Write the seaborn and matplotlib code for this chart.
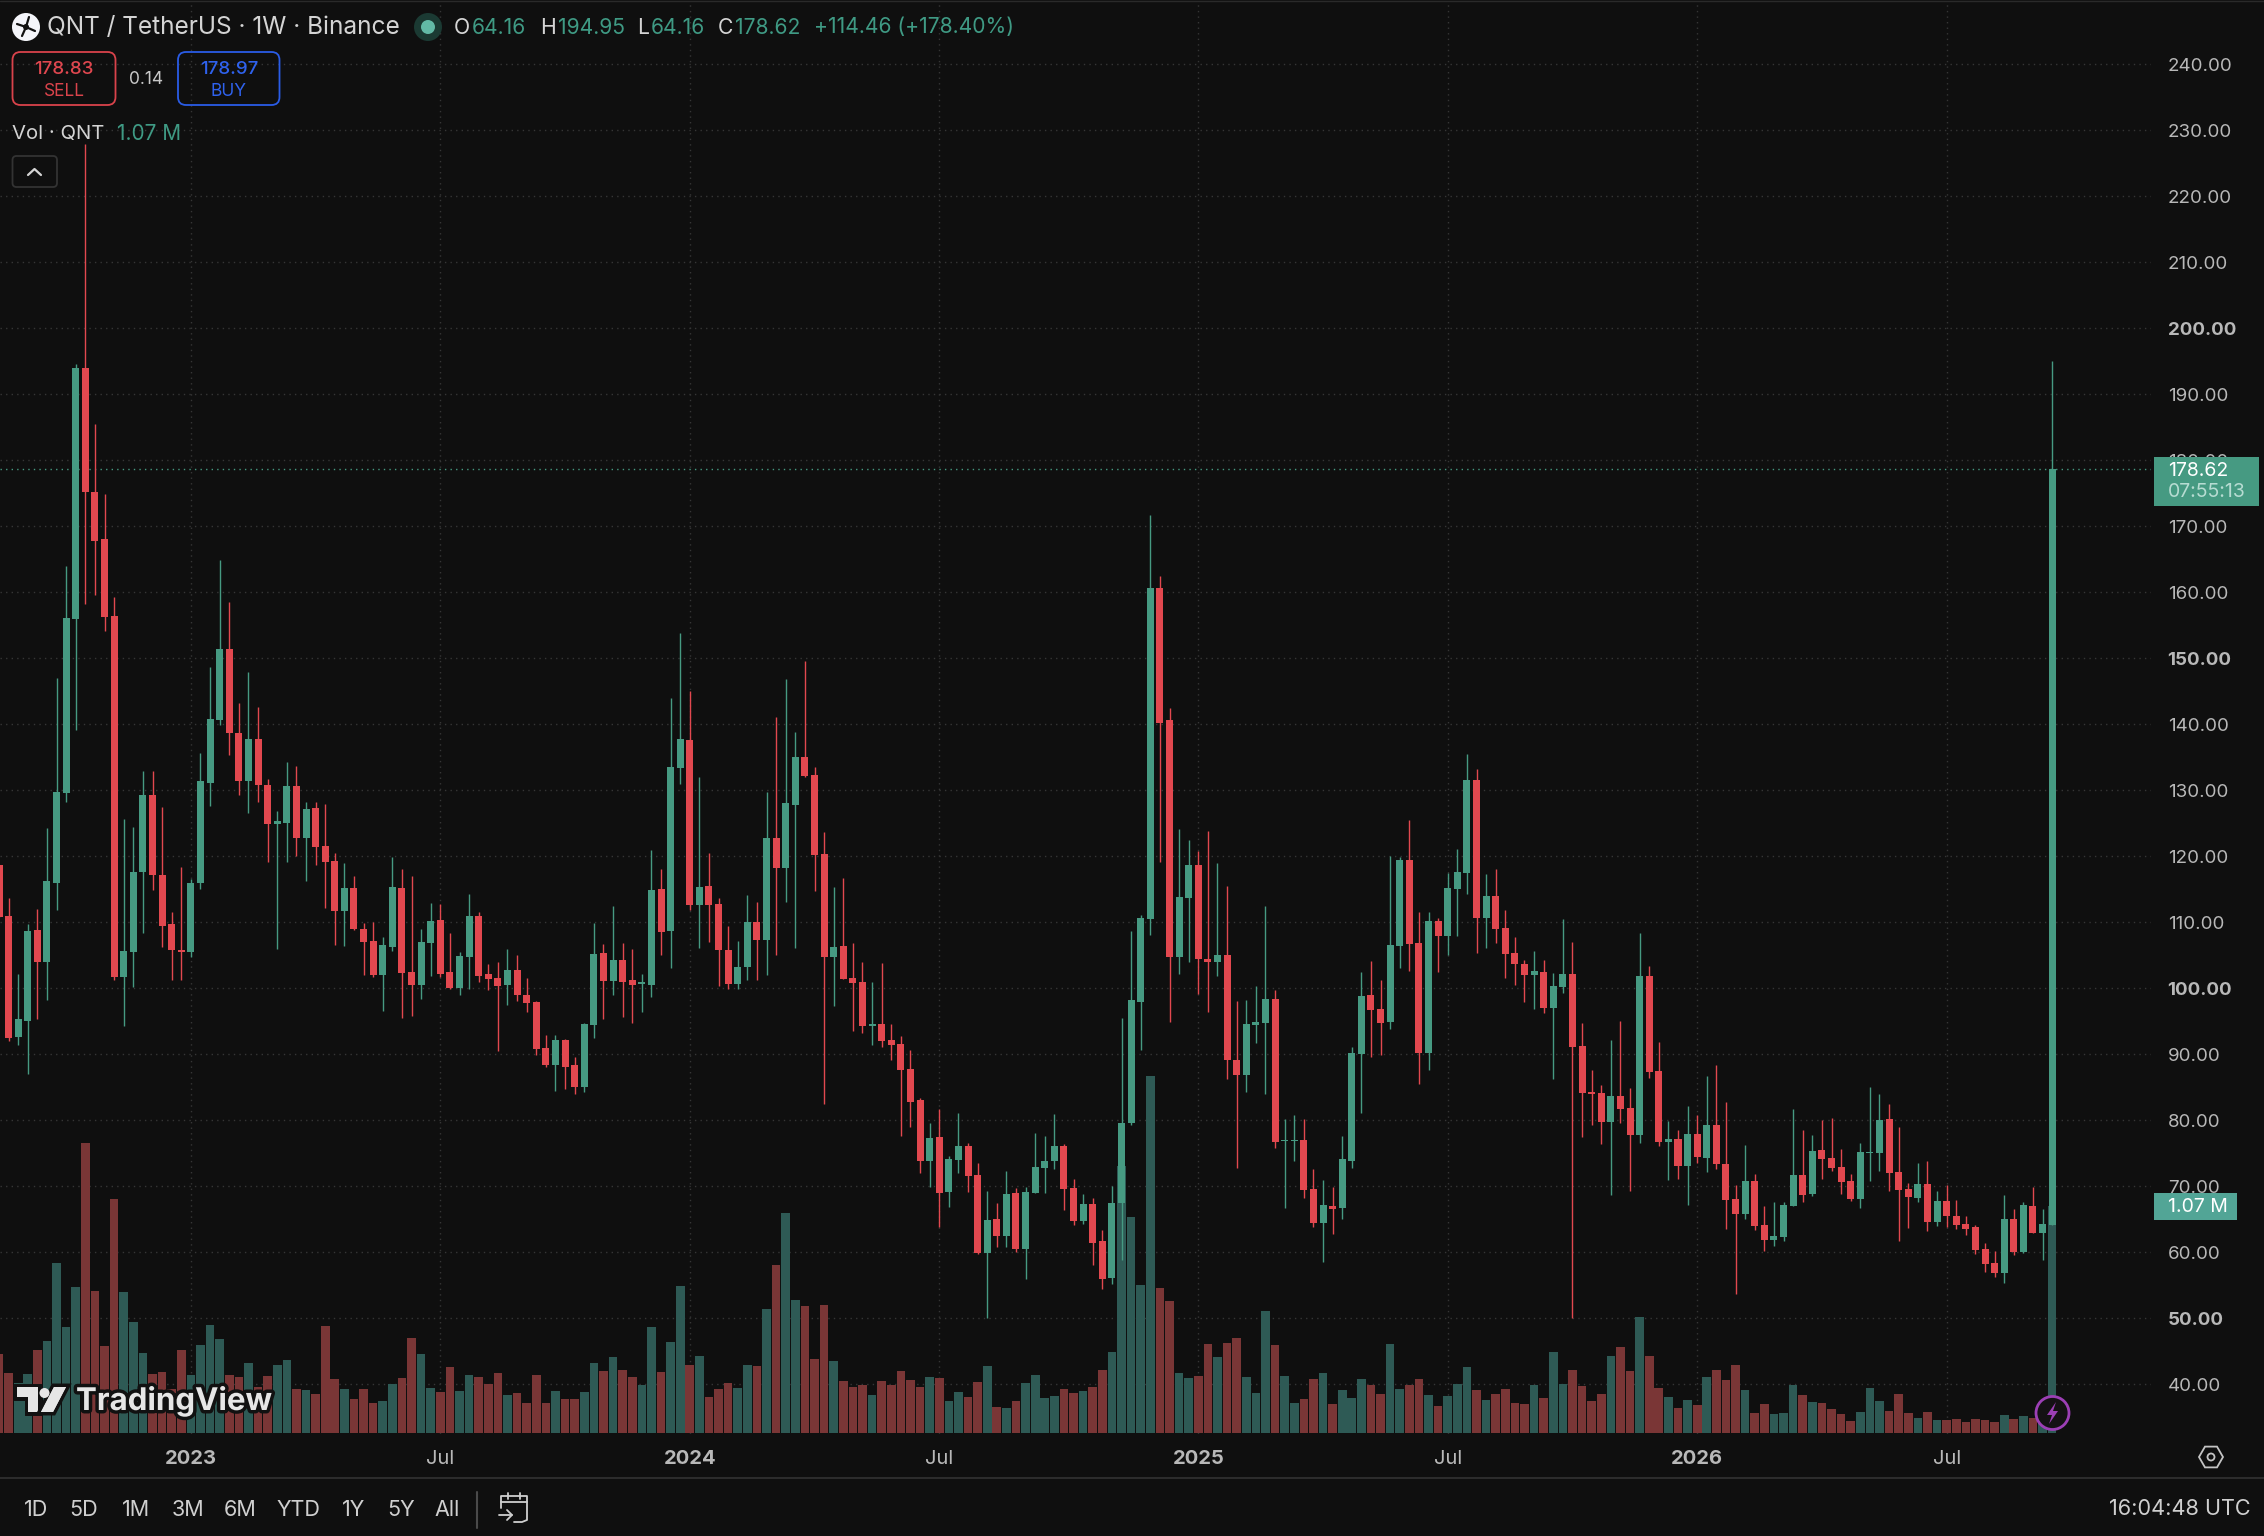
import numpy as np
import pandas as pd
import seaborn as sns
import matplotlib.pyplot as plt
from matplotlib.patches import FancyBboxPatch, Circle, Polygon, Rectangle
import matplotlib.patheffects as pe

# weekly candles, index -1 is the one cut off by the left edge
opens = [118.6, 111.0, 92.6, 95.1, 108.8, 103.9, 116.0, 129.6, 156.0, 193.9, 175.2, 168.1, 156.4, 101.7, 105.5, 117.6, 129.2, 117.2, 109.7, 105.8,
         105.5, 116.0, 131.1, 140.7, 151.4, 138.7, 131.4, 137.7, 130.8, 124.9, 125.1, 130.6, 122.7, 127.3, 121.6, 119.3, 111.7, 115.2, 109.0, 107.2,
         102.0, 106.3, 115.2, 102.5, 100.5, 106.9, 110.4, 102.5, 100.1, 104.7, 111.0, 102.2, 101.6, 100.5, 102.8, 99.0, 97.9, 91.0, 88.3,
         92.2, 88.4, 85.1, 94.4, 105.3, 101.1, 104.3, 101.3, 100.6, 100.5, 115.1, 108.7, 133.4, 137.6, 112.6, 115.5, 112.7, 105.8, 100.6, 103.2,
         110.1, 107.3, 122.7, 118.2, 127.7, 135.1, 132.3, 120.3, 104.8, 106.4, 101.6, 100.9, 94.3, 94.6, 92.2, 91.6, 87.7, 83.1, 73.8, 77.4,
         69.1, 74.0, 76.1, 71.7, 59.9, 65.1, 62.4, 69.0, 60.5, 69.0, 72.8, 73.8, 76.1, 69.8, 64.8, 67.3,
         61.7, 56.1, 67.5, 79.6, 97.9, 110.5, 160.7, 140.7, 104.7, 113.7, 118.7, 104.4, 103.9, 105.0, 89.2, 86.9, 94.4, 94.8, 98.4, 76.9,
         76.9, 77.0, 69.6, 64.4, 67.0, 66.7, 73.8, 90.0, 99.0, 96.8, 94.9, 106.4, 119.4, 106.9, 90.2, 110.2, 107.9, 115.1, 117.5, 131.6,
         110.7, 114.0, 109.1, 105.3, 103.7, 102.0, 102.5, 97.0, 100.2, 102.2, 91.3, 84.3, 84.2, 79.8, 83.7, 81.8,
         77.8, 101.8, 87.4, 76.7, 77.1, 73.1, 77.9, 74.3, 79.3, 73.4, 68.1, 65.8, 70.8, 64.1, 61.8, 62.3, 67.0, 71.7, 68.8, 75.5,
         74.3, 72.9, 70.8, 68.1, 75.0, 75.0, 80.2, 72.1, 69.6, 68.2, 70.4, 64.6, 67.7, 65.5, 64.3, 63.8, 60.5, 58.4, 56.8, 65.0,
         60.0, 67.0, 62.9, 64.16]
highs = [118.6, 113.7, 102.2, 109.8, 112.0, 124.3, 147.0, 163.9, 194.6, 227.9, 185.5, 174.9, 159.3, 125.7, 124.4, 132.9, 132.9, 127.5, 111.5, 118.3,
         116.6, 135.6, 148.7, 164.9, 158.5, 143.2, 147.9, 142.6, 131.7, 126.8, 134.2, 133.7, 128.2, 128.2, 127.9, 120.5, 118.9, 117.0, 109.9, 110.1,
         107.7, 119.9, 118.0, 117.0, 109.0, 112.9, 112.8, 108.4, 105.5, 114.3, 111.5, 103.6, 103.9, 106.0, 105.0, 101.6, 98.1, 92.9, 92.9,
         92.3, 89.6, 94.8, 109.9, 106.7, 112.5, 106.9, 105.9, 102.2, 120.9, 118.1, 144.0, 153.8, 145.1, 132.0, 120.5, 113.7, 109.4, 107.2, 114.1,
         113.1, 129.8, 141.1, 146.9, 138.8, 149.5, 133.5, 123.7, 115.3, 116.7, 106.9, 104.0, 100.9, 103.8, 94.6, 92.7, 90.6, 83.4, 79.6, 81.7,
         74.6, 81.1, 76.6, 73.5, 69.3, 67.4, 72.3, 69.7, 69.9, 78.1, 77.6, 80.9, 76.4, 71.1, 68.8, 68.2,
         63.4, 70.0, 95.5, 108.7, 111.1, 171.7, 162.5, 142.4, 124.1, 122.4, 120.8, 123.8, 118.9, 115.5, 98.1, 98.2, 100.3, 112.4, 99.8, 80.2,
         80.8, 80.2, 72.6, 70.9, 69.9, 77.6, 91.1, 102.5, 104.1, 101.2, 120.0, 119.9, 125.5, 111.5, 111.5, 110.7, 117.5, 121.1, 135.5, 133.2,
         117.3, 118.1, 111.8, 107.7, 104.3, 105.6, 104.3, 102.3, 110.5, 107.0, 94.8, 87.6, 85.3, 92.2, 95.1, 84.9,
         108.4, 103.4, 91.8, 79.9, 78.5, 82.2, 80.8, 86.7, 88.4, 82.8, 70.2, 76.3, 71.9, 67.0, 67.6, 67.6, 81.7, 78.5, 77.8, 80.0,
         80.3, 75.6, 71.9, 76.6, 85.0, 84.0, 82.5, 79.0, 70.5, 73.5, 73.8, 69.3, 70.2, 67.9, 65.5, 64.1, 61.4, 60.2, 68.7, 66.5,
         67.6, 69.9, 66.5, 194.95]
lows = [110.8, 92.0, 91.4, 87.0, 95.4, 98.2, 111.8, 128.2, 139.1, 158.2, 159.6, 154.1, 101.2, 94.3, 100.2, 108.4, 114.9, 106.3, 101.2, 101.2,
        104.7, 115.1, 127.6, 139.8, 135.3, 129.2, 126.6, 128.2, 119.1, 106.0, 119.1, 120.0, 116.2, 118.6, 112.1, 106.6, 106.4, 108.8, 102.0, 101.7,
        96.5, 105.7, 95.5, 95.8, 98.4, 101.9, 101.7, 99.9, 99.0, 99.9, 100.9, 99.8, 90.5, 97.5, 98.1, 96.4, 89.9, 88.1, 84.5,
        84.8, 84.0, 84.3, 92.5, 95.4, 99.0, 95.6, 94.8, 96.4, 98.7, 105.1, 103.1, 130.9, 111.9, 106.1, 107.0, 100.3, 99.9, 99.9, 101.3,
        101.3, 102.0, 105.1, 113.0, 106.1, 132.0, 114.8, 82.4, 97.3, 101.4, 93.5, 93.2, 91.4, 91.1, 89.1, 77.6, 79.0, 72.0, 69.9, 63.8,
        66.8, 72.0, 69.1, 59.7, 50.1, 60.8, 60.8, 60.1, 55.9, 69.0, 69.0, 72.6, 66.4, 64.1, 64.3, 58.1,
        54.5, 55.2, 58.8, 79.3, 90.7, 108.0, 119.1, 94.9, 102.2, 103.9, 99.2, 96.4, 101.9, 86.2, 72.8, 84.3, 91.7, 84.0, 75.8, 66.7,
        73.8, 68.2, 63.8, 58.6, 62.7, 65.1, 72.8, 81.1, 89.6, 89.9, 93.8, 103.1, 102.6, 85.5, 87.6, 102.5, 105.0, 107.9, 114.3, 105.3,
        106.1, 106.9, 101.6, 100.5, 97.9, 96.8, 96.3, 86.2, 99.3, 50.1, 77.4, 79.3, 76.4, 68.6, 79.6, 69.3,
        76.6, 86.4, 76.1, 70.9, 71.1, 67.2, 73.5, 72.1, 72.6, 63.5, 53.7, 65.0, 63.4, 60.2, 61.0, 61.7, 67.0, 67.6, 68.5, 71.1,
        72.3, 68.8, 67.8, 66.7, 70.8, 72.3, 69.3, 61.7, 63.7, 67.6, 63.2, 64.0, 63.8, 63.5, 62.6, 59.7, 57.0, 56.3, 55.3, 59.6,
        59.9, 62.9, 58.8, 64.16]
closes = [110.8, 92.5, 95.4, 108.7, 103.9, 116.2, 129.8, 156.1, 193.9, 175.1, 167.8, 156.3, 101.7, 105.7, 117.6, 129.2, 117.2, 109.4, 105.8, 105.5,
          116.0, 131.4, 140.8, 151.4, 138.7, 131.4, 137.7, 130.8, 124.9, 125.4, 130.6, 122.7, 127.1, 121.4, 119.1, 111.7, 115.2, 109.0, 107.0, 102.0,
          106.6, 115.3, 102.3, 100.5, 107.0, 110.2, 102.2, 100.1, 104.9, 111.0, 101.9, 101.4, 100.3, 102.8, 98.9, 97.8, 90.8, 88.3, 92.2,
          88.1, 85.1, 94.6, 105.2, 101.1, 104.3, 100.9, 100.5, 100.9, 114.9, 108.5, 133.5, 137.7, 112.6, 115.3, 112.6, 105.8, 100.6, 103.2, 110.1,
          107.3, 122.7, 118.2, 128.0, 135.1, 132.2, 120.2, 104.8, 106.3, 101.4, 100.8, 94.3, 94.6, 92.0, 91.4, 87.6, 82.7, 73.8, 77.3, 69.0,
          74.1, 76.1, 71.6, 59.9, 64.9, 62.4, 68.8, 60.5, 69.1, 72.9, 73.8, 76.1, 69.6, 64.8, 67.3, 61.4,
          56.0, 67.5, 79.6, 98.2, 110.7, 160.7, 140.2, 104.7, 113.8, 118.7, 104.4, 103.9, 105.0, 89.1, 86.9, 94.6, 94.9, 98.4, 76.7, 77.0,
          77.0, 69.5, 64.4, 67.2, 66.5, 74.1, 90.2, 98.8, 96.7, 94.8, 106.6, 119.4, 106.7, 90.2, 110.2, 107.9, 115.2, 117.6, 131.6, 110.7,
          114.0, 109.0, 105.2, 103.6, 102.0, 102.6, 97.0, 100.3, 102.2, 91.1, 84.2, 84.0, 79.8, 83.7, 81.7, 77.7,
          101.8, 87.3, 76.7, 77.1, 73.1, 77.9, 74.4, 79.3, 73.4, 67.9, 65.8, 70.8, 64.0, 61.8, 62.5, 67.2, 71.7, 68.7, 75.3, 74.1,
          72.8, 70.6, 68.1, 75.2, 75.2, 80.0, 72.0, 69.4, 68.4, 70.4, 64.6, 67.7, 65.5, 64.1, 63.5, 60.3, 58.2, 56.8, 65.0, 60.0,
          67.2, 62.9, 64.3, 178.62]
# volume in thousands of QNT
volumes = [372, 282, 235, 277, 391, 433, 802, 499, 688, 1369, 669, 410, 1104, 665, 523, 376, 277, 287, 206, 391,
           272, 414, 509, 443, 272, 263, 329, 216, 268, 320, 343, 206, 202, 183, 504, 254, 206, 159, 206, 140,
           150, 230, 258, 447, 372, 211, 192, 310, 197, 272, 263, 230, 282, 178, 187, 140, 272, 140, 197, 159,
           159, 192, 329, 291, 358, 296, 263, 225, 499, 287, 428, 693, 320, 362, 169, 206, 235, 211, 320, 315,
           584, 792, 1038, 627, 599, 348, 603, 339, 244, 216, 225, 178, 244, 225, 291, 249, 216, 263, 258, 150,
           192, 169, 239, 315, 121, 117, 150, 235, 272, 164, 173, 206, 187, 197, 216, 296, 381, 1260, 1019, 698,
           1686, 684, 622, 282, 258, 268, 419, 358, 424, 447, 263, 187, 575, 414, 268, 140, 159, 254, 282, 135,
           202, 164, 254, 225, 183, 419, 206, 225, 254, 178, 126, 173, 230, 310, 202, 154, 183, 206, 140, 135,
           225, 164, 381, 230, 296, 220, 150, 183, 362, 405, 291, 547, 362, 211, 169, 117, 154, 131, 263, 296,
           249, 320, 202, 93, 135, 88, 93, 225, 178, 145, 140, 112, 88, 55, 98, 211, 150, 102, 183, 93,
           69, 98, 60, 60, 65, 50, 65, 60, 50, 83, 65, 79, 69, 60, 1070]
weeks = np.arange(-1, 214)
last_price = 178.62

price_grid = np.arange(40, 250, 10)
bold_prices = [50, 100, 150, 200]
tick_weeks = [19, 45, 71, 97, 124, 150, 176, 202]
tick_labels = ["2023", "Jul", "2024", "Jul", "2025", "Jul", "2026", "Jul"]

range_buttons = ["1D", "5D", "1M", "3M", "6M", "YTD", "1Y", "5Y", "All"]
range_centers = [36, 84, 136, 188, 240, 298, 354, 401, 447]

BG = "#0f0f0f"
UP = "#469a82"
DOWN = "#e2484f"
VOL_UP = "#2e5a55"
VOL_DOWN = "#7a3636"
GRID = "#363636"
LABEL = "#b8b8b8"
GREEN_TXT = "#3f9a84"

W, H = 2264, 1536
sns.set_theme(style="dark", rc={"figure.facecolor": BG, "axes.facecolor": BG,
                                "savefig.facecolor": BG})
plt.rcParams['font.family'] = ['Inter', 'DejaVu Sans']

df = pd.DataFrame({"week": weeks, "open": opens, "high": highs, "low": lows,
                   "close": closes, "vol": volumes})
df["side"] = np.where(df["close"] >= df["open"], "up", "down")
df["body"] = (df["close"] - df["open"]).abs()
df["bottom"] = df[["open", "close"]].min(axis=1)
df["color"] = df["side"].map({"up": UP, "down": DOWN})

fig = plt.figure(figsize=(W / 100, H / 100), dpi=100)
pos = [0, (H - 1434) / H, 2151 / W, 1432 / H]

# three layers so the grid stays behind the volume and the candles on top
base = fig.add_axes(pos)
vol_ax = fig.add_axes(pos, sharex=base)
ax = fig.add_axes(pos, sharex=base, sharey=base)
vol_ax.patch.set_visible(False)
ax.patch.set_visible(False)

sns.barplot(data=df, x="week", y="vol", hue="side", hue_order=["up", "down"],
            palette={"up": VOL_UP, "down": VOL_DOWN}, native_scale=True, dodge=False,
            width=0.9, saturation=1, linewidth=0, errorbar=None, legend=False, ax=vol_ax)
vol_ax.set_ylim(-6, 6758)
vol_ax.axis("off")

ax.vlines(df["week"], df["low"], df["high"], colors=df["color"], linewidth=1.0, zorder=2)
ax.bar(df["week"], df["body"], bottom=df["bottom"], width=0.73, color=df["color"],
       linewidth=0, zorder=3)
ax.axhline(last_price, color=UP, linewidth=1, linestyle=(0, (1, 3)), zorder=1)
ax.axis("off")

base.set_xlim(-0.896, 223.3)
base.set_ylim(32.47, 249.4)
base.set_xticks(tick_weeks, tick_labels)
base.set_yticks(price_grid, [f"{p:.2f}" for p in price_grid])
base.yaxis.tick_right()
base.grid(True, color=GRID, linewidth=1, linestyle=(0, (1, 3)))
base.tick_params(axis="y", length=0, pad=12, labelsize=13.5, colors=LABEL)
base.tick_params(axis="x", length=0, pad=11.5, labelsize=14.5, colors=LABEL)
for t, p in zip(base.get_yticklabels(), price_grid):
    t.set_ha("left")
    if p in bold_prices:
        t.set_fontweight("bold")
for t, s in zip(base.get_xticklabels(), tick_labels):
    if s != "Jul":
        t.set_fontweight("bold")
for s in base.spines.values():
    s.set_visible(False)

# overlay in pixel units for the interface bits around the chart
ui = fig.add_axes([0, 0, 1, 1], zorder=10)
ui.set_xlim(0, W)
ui.set_ylim(H, 0)
ui.axis("off")


def label(x, y, s, color="#d4d4d4", size=13, ha="left", weight="normal"):
    return ui.text(x, y, s, color=color, fontsize=size, ha=ha, va="center", fontweight=weight)


def box(x0, y0, x1, y1, r, face="none", edge="none", lw=1.3):
    ui.add_patch(FancyBboxPatch((x0 + r, y0 + r), x1 - x0 - 2 * r, y1 - y0 - 2 * r,
                                boxstyle=f"round,pad={r}", facecolor=face, edgecolor=edge, linewidth=lw))


ui.plot([0, W], [1, 1], color="#2a2a2a", linewidth=1)
ui.plot([0, W], [1478, 1478], color="#333333", linewidth=1.2)

# header
ui.add_patch(Circle((26, 27), 14, facecolor="#f4f5fa", edgecolor="none"))
ui.add_patch(Circle((26, 27), 3, facecolor="#111111", edgecolor="none"))
for dx, dy in [(-9, -3), (3, -10), (9, 4), (-4, 9)]:
    ui.plot([26, 26 + dx], [27, 27 + dy], color="#111111", linewidth=1.6, solid_capstyle="round")
label(47, 27.5, "QNT / TetherUS · 1W · Binance", size=17.6)
ui.add_patch(Circle((428, 27), 14, facecolor="#1b3a33", edgecolor="none"))
ui.add_patch(Circle((428, 27), 7, facecolor="#62b9a6", edgecolor="none"))
for x, s, c in [(454, "O", "#d4d4d4"), (472, "64.16", GREEN_TXT), (540, "H", "#d4d4d4"),
                (558, "194.95", GREEN_TXT), (637, "L", "#d4d4d4"), (651, "64.16", GREEN_TXT),
                (718, "C", "#d4d4d4"), (735, "178.62", GREEN_TXT), (814, "+114.46 (+178.40%)", GREEN_TXT)]:
    label(x, 27.5, s, color=c, size=15.2)

box(12.5, 52, 115.5, 105, 8, edge="#d9434b")
label(64, 69, "178.83", color="#e0474f", size=13.5, ha="center", weight="medium")
label(64, 91, "SELL", color="#d9434b", size=12.5, ha="center")
label(146, 79, "0.14", color="#c8c8c8", size=12.5, ha="center")
box(178, 52, 279.5, 105, 8, edge="#2a5ce6")
label(229, 69, "178.97", color="#2f62ee", size=13.5, ha="center", weight="medium")
label(229, 91, "BUY", color="#2f62ee", size=12.5, ha="center")
label(12.5, 133.5, "Vol · QNT", size=14.6)
label(117, 133.5, "1.07 M", color=GREEN_TXT, size=15)
box(12.5, 156, 57, 187, 4, edge="#333333")
ui.plot([28, 34.5, 41], [175, 169, 175], color="#d4d4d4", linewidth=1.6)

# price tags on the right
ui.add_patch(Rectangle((2154, 457), 105, 49, facecolor=UP, edgecolor="none"))
label(2168, 471, "178.62", color="white", size=14)
label(2168, 492, "07:55:13", color="#b7dcd2", size=14)
ui.add_patch(Rectangle((2154, 1193), 83, 27, facecolor="#52a596", edgecolor="none"))
label(2168, 1206.5, "1.07 M", color="white", size=14)

# watermark
logo_fx = [pe.withStroke(linewidth=5, foreground="#111111")]
for pts in ([(17, 1387), (38, 1387), (38, 1412), (28, 1412), (28, 1397), (17, 1397)],
            [(54, 1387), (66, 1387), (53, 1412), (41, 1412)]):
    p = Polygon(pts, closed=True, facecolor="#e6e6e6", edgecolor="none")
    p.set_path_effects(logo_fx + [pe.Normal()])
    ui.add_patch(p)
dot = Circle((44.5, 1393), 5, facecolor="#e6e6e6", edgecolor="none")
ui.add_patch(dot)
t = label(76, 1401, "TradingView", color="#e6e6e6", size=22.5, weight="bold")
t.set_path_effects([pe.withStroke(linewidth=5, foreground="#111111")])

# lightning marker on the last bar
ui.add_patch(Circle((2052.5, 1413), 16.5, facecolor="#141114", edgecolor="#9c3fb5", linewidth=2))
ui.add_patch(Polygon([(2056, 1402), (2047, 1415), (2052, 1415), (2049, 1424), (2058, 1411), (2053, 1411)],
                     closed=True, facecolor="#9c3fb5", edgecolor="none"))

# settings hexagon
hx = [2211 + 12 * np.cos(a) for a in np.deg2rad(np.arange(0, 360, 60))]
hy = [1457 + 12 * np.sin(a) for a in np.deg2rad(np.arange(0, 360, 60))]
ui.add_patch(Polygon(list(zip(hx, hy)), closed=True, facecolor="none", edgecolor="#c4c4c4", linewidth=1.3))
ui.add_patch(Circle((2211, 1457), 3.5, facecolor="none", edgecolor="#c4c4c4", linewidth=1.3))

# bottom bar
for s, cx in zip(range_buttons, range_centers):
    label(cx, 1510, s, color="#cfcfcf", size=15.5, ha="center")
ui.plot([477, 477], [1492, 1528], color="#4a4a4a", linewidth=1.5)
ui.plot([501, 501, 527, 527, 522, 514], [1508, 1496, 1496, 1520, 1522, 1522], color="#cfcfcf", linewidth=1.3)
ui.plot([501, 527], [1502, 1502], color="#cfcfcf", linewidth=1.3)
ui.plot([508, 508], [1493, 1499], color="#cfcfcf", linewidth=1.3)
ui.plot([520, 520], [1493, 1499], color="#cfcfcf", linewidth=1.3)
ui.plot([499, 512], [1515, 1515], color="#cfcfcf", linewidth=1.3)
ui.plot([507, 512, 507], [1510, 1515, 1520], color="#cfcfcf", linewidth=1.3)
label(2251, 1509, "16:04:48 UTC", color="#cfcfcf", size=15.6, ha="right")

fig.savefig("out.png", dpi=100)
